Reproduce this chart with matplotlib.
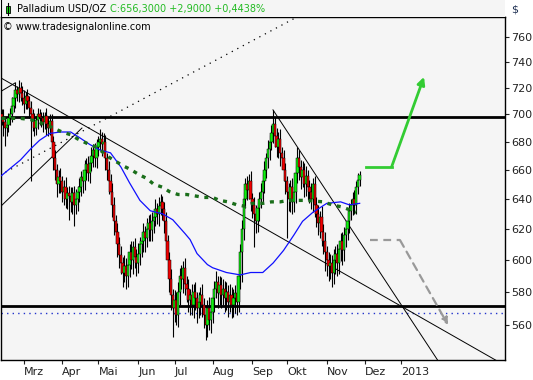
import numpy as np
import matplotlib
matplotlib.use("Agg")
import matplotlib.pyplot as plt
from matplotlib.ticker import FixedLocator, NullLocator, FuncFormatter

# ---------------- data ----------------
start_date = "2012-02-13"
close = [698, 694, 690, 692, 697,
         700, 706, 712, 718, 715, 720,
         716, 712, 708, 714, 710, 705,
         700, 695, 690, 696, 700, 698,
         697, 694, 699, 693, 690, 695,
         680, 668, 660, 650, 655,
         652, 645, 648, 640, 644,
         642, 638, 644, 636, 640, 645,
         648, 655, 652, 660, 664, 658,
         665, 670, 674, 668, 676, 680,
         682, 678, 680,
         668, 660, 652, 645,
         636, 625, 618, 610,
         603, 598, 592, 596, 590,
         597, 605, 600, 608, 602, 598, 604, 610,
         612, 618, 614, 620, 624, 619,
         625, 628, 633, 630, 635, 638, 633,
         625, 612, 600, 588, 578,
         570, 575, 566,
         580, 590, 588, 595, 585,
         582, 575, 578, 572, 580, 576, 570, 574, 578, 572,
         566, 560, 570, 563, 568,
         576, 582, 586, 579, 584, 578, 582,
         576, 580, 574, 578, 572, 576, 579, 574,
         590, 605, 620, 640, 650,
         646, 652, 640, 636,
         630, 625, 634, 640, 645,
         652, 660, 668, 675, 680,
         686, 693, 684,
         676, 682, 672, 668,
         660, 652, 645, 640,
         648, 638, 645,
         658, 668, 662, 655,
         660, 650, 656, 648,
         645, 640, 650, 636,
         630, 624, 628, 618,
         612, 605, 600, 596,
         598, 592, 600,
         604, 598, 607,
         612, 606, 616, 620,
         625, 632, 636,
         640, 636,
         648, 653, 656.3]
first_open = 700

wick_up = [4, 6, 3, 5, 4,
           5, 7, 4, 6, 3, 6,
           4, 5, 6, 3, 5, 4,
           5, 4, 6, 3, 5, 4,
           4, 5, 3, 6, 4, 5,
           5, 4, 6, 4, 5,
           6, 4, 5, 7, 4,
           5, 6, 4, 5, 7, 4,
           6, 4, 5, 7, 4, 6,
           5, 6, 4, 5, 6, 4,
           7, 5, 6,
           5, 4, 6, 5,
           6, 5, 4, 6,
           5, 6, 4, 7, 5,
           6, 5, 7, 4, 6, 5, 7, 5,
           5, 6, 4, 7, 5, 6,
           6, 5, 7, 4, 6, 5, 4,
           5, 6, 4, 5, 6,
           4, 6, 5,
           6, 5, 7, 4, 6,
           5, 6, 4, 7, 5, 6, 4, 6, 5, 7,
           4, 6, 5, 7, 5,
           6, 5, 7, 4, 6, 5, 6,
           5, 6, 4, 7, 5, 6, 5, 6,
           4, 5, 6, 5, 4,
           6, 5, 7, 4,
           5, 6, 4, 5, 6,
           5, 6, 4, 6, 5,
           6, 10, 5,
           6, 5, 7, 4,
           6, 5, 4, 6,
           5, 6, 7,
           5, 8, 6, 5,
           6, 5, 7, 4,
           5, 6, 4, 6,
           5, 6, 4, 7,
           5, 6, 4, 5,
           6, 5, 7,
           5, 6, 4,
           5, 6, 5, 4,
           6, 5, 4,
           5, 6,
           4, 5, 3]

wick_dn = [6, 10, 13, 6, 5,
           5, 6, 4, 7, 5, 6,
           6, 5, 7, 4, 6, 8,
           48, 7, 6, 5, 7, 6,
           6, 7, 5, 8, 6, 5,
           6, 8, 7, 9, 6,
           8, 7, 9, 6, 7,
           16, 7, 8, 14, 6, 8,
           7, 6, 8, 6, 7, 6,
           7, 6, 8, 6, 7, 6,
           6, 8, 7,
           8, 7, 9, 7,
           8, 9, 7, 8,
           8, 7, 9, 6, 8,
           7, 8, 6, 9, 7, 8, 6, 7,
           8, 7, 9, 6, 8, 7,
           7, 8, 6, 7, 8, 6, 7,
           8, 9, 7, 8, 9,
           17, 8, 6,
           7, 8, 6, 9, 7,
           8, 7, 9, 6, 8, 7, 9, 6, 8, 7,
           8, 9, 7, 6, 8,
           7, 8, 6, 9, 7, 8, 6,
           8, 7, 9, 6, 8, 7, 9, 8,
           6, 8, 19, 7, 6,
           7, 6, 8, 9,
           22, 8, 7, 9, 6,
           7, 8, 6, 7, 8,
           6, 7, 8,
           7, 8, 9, 7,
           8, 9, 31, 8,
           9, 8, 7,
           8, 7, 9, 8,
           7, 9, 8, 9,
           8, 7, 9, 8,
           9, 8, 10, 9,
           8, 12, 10, 9,
           8, 9, 7,
           9, 8, 7,
           8, 9, 7, 8,
           7, 8, 6,
           7, 6,
           6, 5, 4]

# moving averages (bar index, price)
ma_blue_idx = [0, 11, 17, 22, 28, 34, 40, 45, 51, 57, 63, 69, 74, 80, 86, 93, 99,
               106, 109, 113, 119, 122, 130, 138, 144, 151, 157, 163, 169, 174,
               180, 188, 196, 201, 207]
ma_blue = [656, 667, 675, 681, 686, 687, 687, 683, 678, 674, 672, 662, 651, 639,
           632, 630, 626, 617, 613, 604, 597, 595, 592, 590.5, 592, 592, 598, 606,
           616, 625, 631, 637, 638, 636, 637]

ma_green_idx = [0, 5, 11, 17, 22, 28, 35, 40, 44, 49, 55, 62, 66, 70, 75, 79, 84,
                88, 93, 97, 102, 107, 112, 117, 122, 126, 131, 136, 141, 145, 151,
                156, 161, 166, 171, 177, 181, 186, 191, 197, 205]
ma_green = [697, 697, 697, 696, 694, 691, 687, 685, 682, 679, 676, 669, 666, 663,
            660, 657, 654, 650, 648, 645, 643, 643, 642, 641, 641, 639, 638, 636,
            635, 637, 637, 638, 638, 639, 639, 639, 638.5, 638, 636, 634.5, 631]

# trend lines: ([idx0, idx1], [price0, price1])
trend_long = ([-0.87, 291.0], [727.9, 536.5])
trend_peak = ([156.9, 259.2], [703.3, 528.9])
trend_steep = ([-0.87, 46.5], [634.5, 689.9])
trend_short = ([-0.87, 7.8], [716.8, 723.6])
trend_dotted = ([-0.87, 189.9], [656.4, 790.6])
resistance = 698
support = 571.6
support_dotted = 567.4

# scenario arrows
bull_path = ([210.7, 225.5, 244.2], [662.2, 662.2, 728.3])
bear_path = ([213.0, 230.3, 258.1], [612.7, 612.7, 560.0])

month_dates = ["2012-03-01", "2012-04-02", "2012-05-01", "2012-06-01", "2012-07-02",
               "2012-08-01", "2012-09-03", "2012-10-01", "2012-11-01", "2012-12-03",
               "2013-01-01"]
month_labels = ["Mrz", "Apr", "Mai", "Jun", "Jul", "Aug", "Sep", "Okt", "Nov", "Dez", "2013"]
price_ticks = [560, 580, 600, 620, 640, 660, 680, 700, 720, 740, 760]

# ---------------- figure ----------------
W, H = 533, 380
fig = plt.figure(figsize=(W / 100, H / 100), dpi=100)
fig.patch.set_facecolor("white")

L, R, B, T = 1, 505, 360, 17
ax = fig.add_axes([L / W, 1 - B / H, (R - L) / W, (B - T) / H])
ax.set_facecolor("#f5f5f5")

close_a = np.array(close, dtype=float)
open_a = np.concatenate([[first_open], close_a[:-1]])
hi = np.maximum(open_a, close_a) + np.array(wick_up)
lo = np.minimum(open_a, close_a) - np.array(wick_dn)
idx = np.arange(len(close_a))

# overlays drawn beneath candles
ax.axhline(resistance, color="black", lw=2.0, zorder=2)
ax.axhline(support, color="black", lw=2.0, zorder=2)
ax.axhline(support_dotted, color="#2233cc", lw=1.0, ls=(0, (1, 3)), zorder=2)
for ln in (trend_long, trend_peak, trend_steep, trend_short):
    ax.plot(ln[0], ln[1], color="black", lw=0.7, zorder=2)
ax.plot(trend_dotted[0], trend_dotted[1], color="black", lw=0.9, ls=(0, (1, 4)), zorder=2)

ax.vlines(idx, lo, hi, color="black", lw=0.8, zorder=3)
up = close_a >= open_a
body_bot = np.minimum(open_a, close_a)
body_h = np.maximum(np.abs(close_a - open_a), 0.6)
ax.bar(idx, body_h, bottom=body_bot, width=1.35,
       color=np.where(up, "#10f010", "#f00000"), edgecolor="black", linewidth=0.35, zorder=4)

ax.plot(ma_blue_idx, ma_blue, color="#1010ff", lw=0.9, zorder=5)
ax.plot(ma_green_idx, ma_green, color="#1a6e1a", lw=2.4, ls=(0, (1.2, 1.7)), zorder=5)

# scenario arrows
ax.plot(bull_path[0][:2], bull_path[1][:2], color="#33cc33", lw=2.0, zorder=6)
ax.annotate("", xy=(bull_path[0][2], bull_path[1][2]), xytext=(bull_path[0][1], bull_path[1][1]),
            arrowprops=dict(arrowstyle="-|>", color="#33cc33", lw=2.0, mutation_scale=11,
                            shrinkA=0, shrinkB=0), zorder=6)
ax.plot(bear_path[0][:2], bear_path[1][:2], color="#999999", lw=1.6, ls=(0, (3.5, 2.5)), zorder=6)
ax.annotate("", xy=(bear_path[0][2], bear_path[1][2]), xytext=(bear_path[0][1], bear_path[1][1]),
            arrowprops=dict(arrowstyle="-|>", color="#999999", lw=1.6, ls=(0, (3.5, 2.5)),
                            mutation_scale=10, shrinkA=0, shrinkB=0), zorder=6)

# scales
ax.set_yscale("log")
ax.set_ylim(539.6, 776.0)
ax.set_xlim(-0.29, 291.0)

ax.yaxis.set_major_locator(FixedLocator(price_ticks))
ax.yaxis.set_minor_locator(NullLocator())
ax.yaxis.set_major_formatter(FuncFormatter(lambda v, p: f"{v:.0f}"))
ax.yaxis.tick_right()
ax.tick_params(axis="y", which="major", direction="out", length=3, width=0.8,
               pad=1.5, labelsize=8, colors="#222222")

tick_pos = [np.busday_count(start_date, d) for d in month_dates]
ax.xaxis.set_major_locator(FixedLocator(tick_pos))
ax.xaxis.set_minor_locator(NullLocator())
ax.set_xticklabels(month_labels)
ax.tick_params(axis="x", direction="out", length=3, width=0.8, pad=2,
               labelsize=8, colors="#222222")
for lab in ax.get_xticklabels():
    lab.set_horizontalalignment("left")

for s in ax.spines.values():
    s.set_color("black")
    s.set_linewidth(1.0)

# header band
hx = fig.add_axes([L / W, 1 - T / H, (R - L) / W, T / H])
hx.set_facecolor("#f5f5f5")
hx.set_xlim(L, R)
hx.set_ylim(T, 0)
hx.set_xticks([])
hx.set_yticks([])
for k in ("top", "right", "bottom"):
    hx.spines[k].set_visible(False)
hx.spines["left"].set_color("black")
hx.plot([7.5, 7.5], [3, 15], color="black", lw=0.8)
hx.add_patch(plt.Rectangle((5.5, 5.5), 4, 7, facecolor="#10e010", edgecolor="black", lw=0.6))
hx.text(17, 9, "Palladium USD/OZ", fontsize=7.0, color="black", va="center", ha="left")
hx.text(110, 9, "C:656,3000 +2,9000 +0,4438%", fontsize=7.0, color="#22bb22",
        va="center", ha="left")

fig.text(3 / W, 1 - 27 / H, "\u00a9 www.tradesignalonline.com", fontsize=7.0,
         color="black", va="center", ha="left")
fig.text(511 / W, 1 - 10 / H, "$", fontsize=8, color="#223355", va="center", ha="left")

fig.savefig("out.png", dpi=100)
